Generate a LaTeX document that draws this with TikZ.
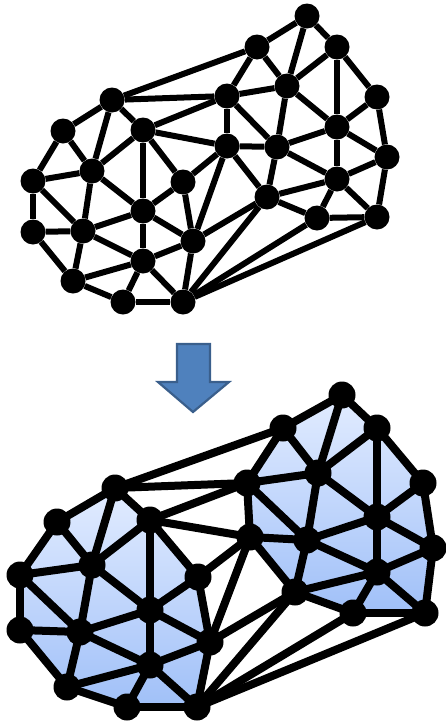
\documentclass[tikz,border=0pt]{standalone}
\usetikzlibrary{backgrounds}

\definecolor{meshtop}{RGB}{226,236,255}
\definecolor{meshbottom}{RGB}{160,192,248}
\definecolor{arrowblue}{RGB}{79,129,189}
\definecolor{arrowrim}{RGB}{58,95,140}

\tikzset{
  dot/.style={circle,fill=black,inner sep=0pt,minimum size=#1},
  link/.style={line width=#1,black},
  cluster/.style={top color=meshtop,bottom color=meshbottom},
  downarrow/.style={fill=arrowblue,draw=arrowrim,line width=2.2pt}
}

% edges shared by both meshes
\newcommand\meshedges{a/b,a/c,a/d,b/d,b/e,b/g,c/d,c/f,c/j,d/e,d/j,d/l,e/g,e/i,e/k,e/l,
  f/j,f/m,g/h,g/i,g/o,h/n,h/o,i/o,i/s,i/p,i/k,j/l,j/m,j/q,k/l,k/p,k/r,k/x,l/q,l/r,
  m/q,m/u,n/o,n/v,n/w,o/w,o/s,p/s,p/x,q/r,q/t,q/u,r/t,r/x,r/ab,s/w,s/x,s/y,t/u,t/ab,
  u/ab,v/w,v/z,w/y,w/z,x/y,x/ab,y/z,y/aa,y/ab,z/aa,aa/ab}

\begin{document}
\begin{tikzpicture}[x=1pt,y=-1pt]
\useasboundingbox (0,0) rectangle (445,726);

% original mesh
\foreach \n/\x/\y in {a/307/16,b/257/47,c/337/47,d/287/86,e/227/96,f/377/97,g/112/100,
  h/63/131,i/143/130,j/337/127,k/227/146,l/277/147,m/387/157,n/33/181,o/92/171,
  p/183/182,q/337/179,r/267/197,s/143/211,t/317/218,u/377/217,v/33/232,w/83/231,
  x/193/241,y/143/261,z/73/281,aa/123/302,ab/183/302}
  \node[dot=25pt] (t\n) at (\x,\y) {};
\foreach \u/\v in \meshedges
  \draw[link=6pt] (t\u) -- (t\v);

% arrow
\draw[downarrow] (177,344) -- (210,344) -- (210,382) -- (229,382) -- (193,412)
  -- (158,382) -- (177,382) -- cycle;

% segmented mesh
\foreach \n/\x/\y in {a/342/395,b/283/428,c/377/428,d/318/473,e/247/483,f/423/483,
  g/115/488,h/57/522,i/150/520,j/377/517,k/250/537,l/307/540,m/433/548,n/20/575,
  o/92/565,p/198/577,q/377/572,r/295/592,s/150/610,t/353/613,u/425/613,v/20/630,
  w/80/632,x/210/642,y/150/665,z/67/687,aa/127/707,ab/197/707}
  \node[dot=27pt] (b\n) at (\x,\y) {};
\begin{scope}[on background layer]
  \shade[cluster] (bg.center) -- (bi.center) -- (bp.center) -- (bx.center)
    -- (bab.center) -- (baa.center) -- (bz.center) -- (bv.center) -- (bn.center)
    -- (bh.center) -- cycle;
  \shade[cluster] (bb.center) -- (ba.center) -- (bc.center) -- (bf.center)
    -- (bm.center) -- (bu.center) -- (bt.center) -- (br.center) -- (bk.center)
    -- (be.center) -- cycle;
  \foreach \u/\v in \meshedges
    \draw[link=8pt] (b\u.center) -- (b\v.center);
\end{scope}
\end{tikzpicture}
\end{document}
